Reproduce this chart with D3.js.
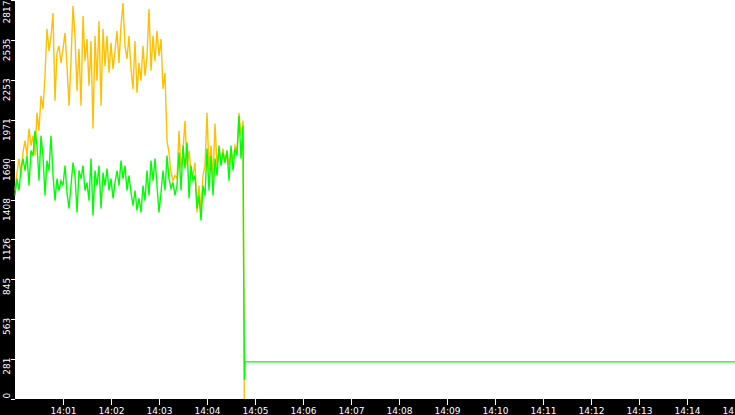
<!DOCTYPE html>
<html>
<head>
<meta charset="utf-8">
<script src="https://cdn.jsdelivr.net/npm/d3@7"></script>
<style>
  html, body { margin: 0; padding: 0; background: #000; }
  svg { display: block; }
  .axis text { fill: #fff; font-family: "DejaVu Sans", sans-serif; font-size: 9px; }
  .axis line { stroke: #fff; shape-rendering: crispEdges; }
  .series { fill: none; stroke-width: 1.4; stroke-linejoin: miter; }
</style>
</head>
<body>
<div id="chart"></div>
<script>
// one sample every 2.5 s from 14:00:00
const startTime = new Date(2024, 0, 1, 14, 0, 0);
const endTime = new Date(2024, 0, 1, 14, 15, 0);
const sampleStep = 2.5;

const yellowValues = [
  1472, 1599, 1697, 1578, 1740, 1824, 1718, 1909, 1789, 1859,
  1718, 2021, 1894, 2141, 2049, 2282, 2613, 2458, 2564, 2725,
  2106, 2444, 2493, 2373, 2472, 2585, 2352, 2071, 2387, 2775,
  2564, 2176, 2472, 2071, 2704, 2387, 2542, 2211, 2528, 1909,
  2564, 2247, 2669, 2071, 2613, 2352, 2564, 2303, 2514, 2331,
  2458, 2599, 2373, 2634, 2796, 2493, 2402, 2564, 2331, 2190,
  2528, 2162, 2373, 2247, 2493, 2282, 2423, 2754, 2317, 2564,
  2387, 2599, 2423, 2542, 2190, 2303, 1824, 1740, 1599, 1542,
  1578, 1556, 1894, 1627, 1754, 1965, 1648, 1754, 1613, 1578,
  1669, 1317, 1507, 1331, 1578, 1648, 2021, 1613, 1789, 1556,
  1944, 1648, 1754, 1683, 1768, 1669, 1754, 1648, 1768, 1683,
  1789, 1754, 2021, 1859, 1965
];

const greenValues = [
  1437, 1556, 1472, 1627, 1697, 1613, 1718, 1507, 1754, 1718,
  1894, 1789, 1542, 1859, 1718, 1437, 1683, 1613, 1859, 1578,
  1401, 1556, 1472, 1542, 1507, 1648, 1458, 1345, 1507, 1669,
  1578, 1317, 1613, 1556, 1648, 1472, 1528, 1401, 1697, 1296,
  1613, 1507, 1648, 1345, 1599, 1507, 1627, 1472, 1556, 1416,
  1528, 1613, 1507, 1683, 1556, 1648, 1472, 1578, 1458, 1366,
  1472, 1331, 1416, 1317, 1507, 1401, 1613, 1437, 1683, 1542,
  1697, 1507, 1317, 1458, 1613, 1472, 1718, 1556, 1486, 1528,
  1437, 1507, 1740, 1472, 1789, 1627, 1810, 1416, 1648, 1542,
  1578, 1345, 1437, 1261, 1507, 1437, 1768, 1472, 1718, 1437,
  1697, 1578, 1789, 1648, 1740, 1669, 1754, 1542, 1789, 1613,
  1768, 1718, 2000, 1697, 1930
];

// after the drop: [seconds after 14:00, value]
const yellowTail = [[285.8, 940], [286.6, 0]];
const greenTail = [[285.8, 940], [286.8, 134], [287.6, 262], [900, 262]];

const yTickValues = [0, 281.7, 563.4, 845.1, 1126.8, 1408.5, 1690.2, 1971.9, 2253.6, 2535.3, 2817];
const seriesColors = ['#ffc000', '#00ff00'];

class FlowChart {
    constructor(container, width, height, margin){
        this.width = width;
        this.height = height;
        this.margin = margin; // top, right, bottom, left
        this.svg = d3.select(container).append('svg')
            .attr('width', width).attr('height', height)
            .style('background', '#000');
        this.svg.append('rect')
            .attr('x', margin[3]).attr('y', margin[0])
            .attr('width', width - margin[1] - margin[3])
            .attr('height', height - margin[0] - margin[2])
            .attr('fill', '#fff');
        this.x = d3.scaleTime().domain([startTime, endTime]).range([margin[3], width - margin[1]]);
        this.y = d3.scaleLinear().domain([0, 2817]).range([height - margin[2], margin[0]]);
        this.lines = this.svg.append('g').classed('lines', true);
    }

    toPoints(values, tail){
        let pts = values.map((v, i) => [new Date(+startTime + i * sampleStep * 1000), v]);
        tail.forEach(t => pts.push([new Date(+startTime + t[0] * 1000), t[1]]));
        return pts;
    }

    drawAxes(){
        let yAxis = d3.axisLeft(this.y).tickValues(yTickValues).tickSize(4).tickFormat(d => Math.floor(d));
        let gy = this.svg.append('g').classed('axis', true)
            .attr('transform', `translate(${this.margin[3]},0)`).call(yAxis);
        gy.select('.domain').remove();
        // labels read bottom-to-top, ending just above their tick
        gy.selectAll('text')
            .attr('x', null).attr('dy', null)
            .attr('text-anchor', d => d === 0 ? 'start' : 'end')
            .attr('transform', d => {
                let off = d === 0 ? -1 : Math.max(-2, -this.y(d));
                return `translate(-5,${off}) rotate(-90)`;
            });

        let ticks = d3.timeMinute.range(new Date(+startTime + 60000), new Date(+endTime + 1));
        let xAxis = d3.axisBottom(this.x).tickValues(ticks).tickSize(6).tickFormat(d3.timeFormat('%H:%M'));
        let gx = this.svg.append('g').classed('axis', true)
            .attr('transform', `translate(0,${this.height - this.margin[2]})`).call(xAxis);
        gx.select('.domain').remove();
        gx.selectAll('text').attr('y', 15).attr('dy', null);
    }

    drawSeries(points, color){
        let line = d3.line()
            .x(d => this.x(d[0])).y(d => this.y(d[1]));
        this.lines.append('path').classed('series', true)
            .attr('stroke', color)
            .attr('d', line(points));
    }

    render(){
        this.drawSeries(this.toPoints(yellowValues, yellowTail), seriesColors[0]);
        this.drawSeries(this.toPoints(greenValues, greenTail), seriesColors[1]);
        this.drawAxes();
        return this;
    }
}

new FlowChart('#chart', 735, 415, [0, 0, 16, 15]).render();
</script>
</body>
</html>
